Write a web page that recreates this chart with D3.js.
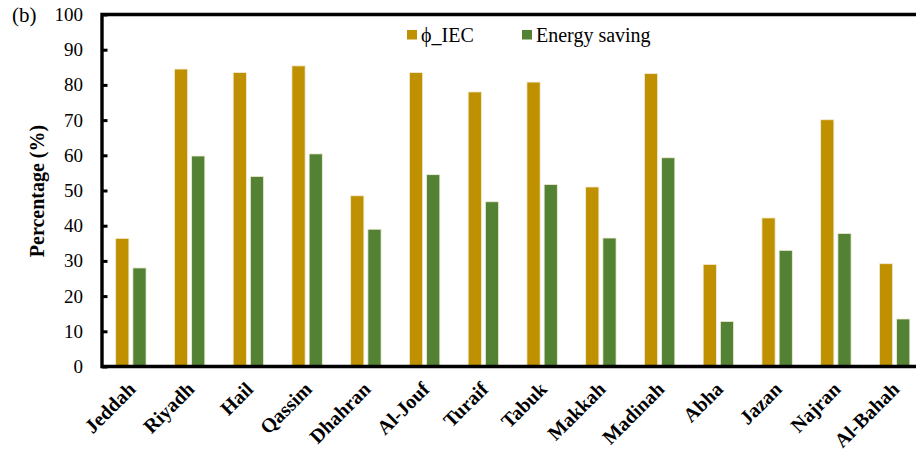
<!DOCTYPE html>
<html>
<head>
<meta charset="utf-8">
<script src="https://cdn.jsdelivr.net/npm/d3@7/dist/d3.min.js"></script>
<style>
  html, body { margin: 0; padding: 0; background: #fff; overflow: hidden; }
  svg { display: block; font-family: 'Liberation Serif', 'Times New Roman', serif; }
</style>
</head>
<body>
<svg id="chart" width="916" height="452"></svg>
<script>
// Cities and their values (%)
const cities = ["Jeddah", "Riyadh", "Hail", "Qassim", "Dhahran", "Al-Jouf", "Turaif",
                "Tabuk", "Makkah", "Madinah", "Abha", "Jazan", "Najran", "Al-Bahah"];
const phiIEC = [36.4, 84.5, 83.5, 85.4, 48.5, 83.5, 78.0, 80.8, 51.0, 83.2, 29.0, 42.2, 70.1, 29.2];
const energySaving = [28.0, 59.8, 54.0, 60.4, 39.0, 54.5, 46.8, 51.7, 36.5, 59.3, 12.8, 33.0, 37.8, 13.5];
const seriesNames = ["\u03D5_IEC", "Energy saving"];
const seriesColors = ["#BF9000", "#548235"];
const yTicks = [0, 10, 20, 30, 40, 50, 60, 70, 80, 90, 100];

const FONT = "'Liberation Serif', 'Times New Roman', serif";
const svg = d3.select("#chart");
const axisX = 102, plotR = 924, plotT = 14.5, plotB = 366.5;

const x = d3.scaleBand().domain(cities).range([101.5, plotR]).paddingInner(0).paddingOuter(0);
const y = d3.scaleLinear().domain([0, 100]).range([plotB, plotT]);
const bandW = x.bandwidth();
const barW = 13.2, gap = 4;

// Bars
const series = [phiIEC, energySaving];
series.forEach((vals, si) => {
  svg.append("g").selectAll("rect")
    .data(cities.map((c, i) => ({ c, v: vals[i] })))
    .join("rect")
    .attr("x", d => x(d.c) + bandW / 2 - gap / 2 - barW + si * (barW + gap))
    .attr("y", d => y(d.v))
    .attr("width", barW)
    .attr("height", d => y(0) - y(d.v))
    .attr("fill", seriesColors[si])
    .attr("stroke", "#f3ecd8")
    .attr("stroke-width", 0.8);
});

// Y axis: ticks point into the plot
const yAxis = d3.axisLeft(y).tickValues(yTicks).tickSize(-5.5).tickPadding(19).tickFormat(d3.format("d"));
const gy = svg.append("g").attr("transform", `translate(${axisX},0)`).call(yAxis);
gy.select(".domain").remove();
gy.selectAll(".tick line").attr("stroke", "#000").attr("stroke-width", 3);
gy.selectAll(".tick text")
  .attr("font-family", FONT)
  .attr("font-size", 19)
  .attr("fill", "#000");

// Frame: left, top and bottom lines
svg.append("path")
  .attr("d", `M${plotR},${plotT} H${axisX} V${plotB} H${plotR}`)
  .attr("fill", "none")
  .attr("stroke", "#000")
  .attr("stroke-width", 3.4);

// X labels, rotated
const gx = svg.append("g");
gx.selectAll("text")
  .data(cities)
  .join("text")
  .attr("transform", d => `translate(${x(d) + bandW / 2 + 6},${plotB + 24}) rotate(-45)`)
  .attr("text-anchor", "end")
  .attr("font-family", FONT)
  .attr("font-weight", "bold")
  .attr("font-size", 20)
  .attr("fill", "#000")
  .text(d => d);

// Y axis title
svg.append("text")
  .attr("transform", `translate(44,191) rotate(-90)`)
  .attr("text-anchor", "middle")
  .attr("font-family", FONT)
  .attr("font-weight", "bold")
  .attr("font-size", 20)
  .text("Percentage (%)");

// Panel label
svg.append("text")
  .attr("x", 12).attr("y", 21.5)
  .attr("font-family", FONT)
  .attr("font-size", 21)
  .text("(b)");

// Legend
const legendX = [407, 522];
const lg = svg.append("g");
seriesNames.forEach((name, i) => {
  lg.append("rect")
    .attr("x", legendX[i]).attr("y", 30)
    .attr("width", 10).attr("height", 9.5)
    .attr("fill", seriesColors[i]);
  lg.append("text")
    .attr("x", legendX[i] + 14).attr("y", 41.5)
    .attr("font-family", FONT)
    .attr("font-size", 20)
    .attr("fill", "#000")
    .text(name);
});
</script>
</body>
</html>
